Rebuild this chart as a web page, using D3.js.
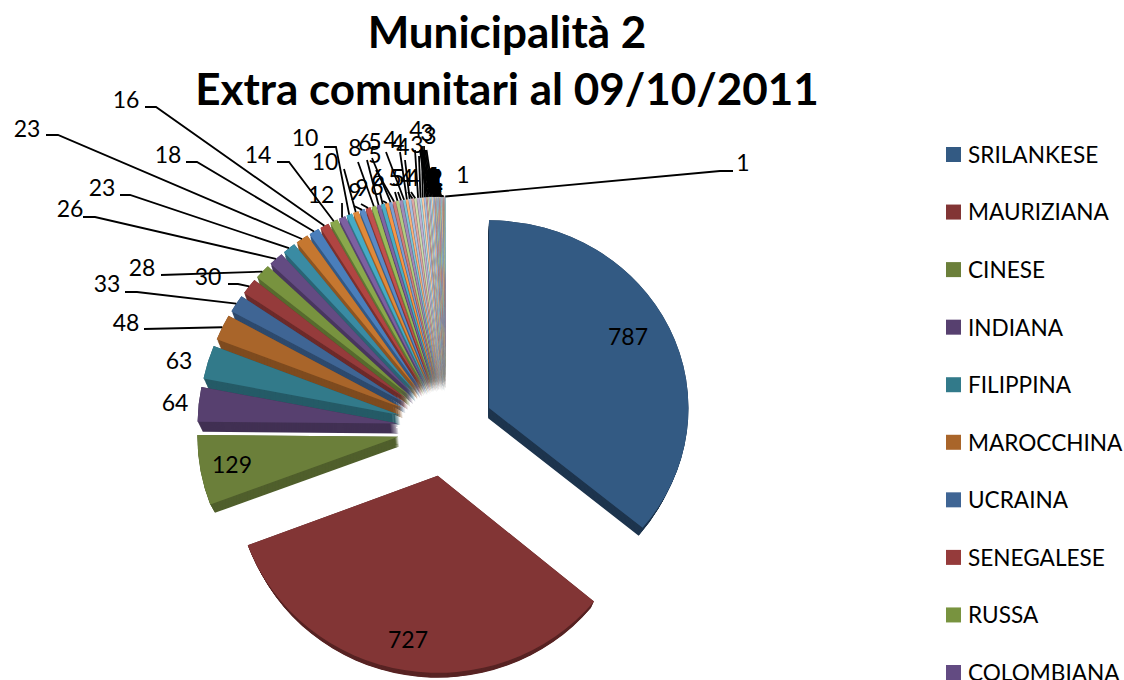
<!DOCTYPE html>
<html>
<head>
<meta charset="utf-8">
<script src="https://cdn.jsdelivr.net/npm/d3@7"></script>
<style>
  html, body { margin: 0; padding: 0; background: #fff; overflow: hidden; }
  svg { display: block; }
  text { font-family: Lato, "Open Sans", sans-serif; fill: #000; }
</style>
</head>
<body>
<svg width="1124" height="680"></svg>
<script>
const titleLines = ["Municipalità 2", "Extra comunitari al 09/10/2011"];

// only the first ten names are visible, the legend runs off the page
const categories = ["SRILANKESE", "MAURIZIANA", "CINESE", "INDIANA", "FILIPPINA",
  "MAROCCHINA", "UCRAINA", "SENEGALESE", "RUSSA", "COLOMBIANA"];

const values = [787, 727, 129, 64, 63, 48, 33, 30, 28, 26, 23, 23, 18, 16, 14, 12, 10, 10,
  9, 9, 8, 6, 6, 6, 5, 5, 5, 5, 4, 4, 4, 4, 4, 4, 3, 3, 3,
  2, 2, 2, 2, 2, 2,
  1, 1, 1, 1, 1, 1, 1, 1, 1, 1, 1, 1, 1, 1, 1, 1];

// office theme colours, they get lighter each time the cycle repeats
const colorCycles = [
  ["#335a83", "#823535", "#6b7f3a", "#57406f", "#327a8a", "#a9652a"],
  ["#3f6594", "#953b3b", "#78933f", "#634b82", "#3a8ba3", "#c57730"],
  ["#4a7ebb", "#b04542", "#8aa84c", "#7d60a0", "#46aac5", "#e08a3a"],
  ["#5a8ac6", "#c0504d", "#9bbb59", "#8064a2", "#4bacc6", "#f79646"],
  ["#7ba0d2", "#cf7b79", "#b3cc82", "#a08ab8", "#7cc4d8", "#f8b27c"],
  ["#a8bfe0", "#dda5a3", "#cddcae", "#bfb0d0", "#a9d8e5", "#fbcda8"]
];

// label centre, then the start of its leader line (stub first when there is one)
const labelAt = [
  [628, 337], [408, 640], [232, 465], [175, 403], [179, 361],
  [126, 323, [144, 329]], [107, 284, [125, 292], [137, 292]], [208, 277, [228, 284], [238, 284]],
  [142, 268, [161, 275]], [70, 209, [83, 217], [95, 217]], [102, 188, [120, 195], [130, 195]],
  [27, 129, [46, 135], [58, 135]], [168, 155, [186, 162], [197, 162]], [126, 100, [145, 107], [156, 107]],
  [258, 155, [277, 162], [289, 162]], [321, 195, [342, 203]],
  [305, 138, [324, 147], [336, 147]], [325, 162, [344, 169]],
  [355, 192, [354, 206]], [362, 188, [361, 204]], [355, 148, [358, 162]],
  [365, 143, [367, 160]], [378, 178, [380, 193]], [377, 187, [383, 201]],
  [375, 142, [372, 158]], [375, 155, [376, 170]], [395, 178, [395, 192]], [398, 178, [398, 192]],
  [390, 140, [386, 152]], [398, 143, [400, 152]], [403, 147, [405, 160]], [407, 178, [408, 192]],
  [413, 178, [411, 192]], [416, 130, [415, 150]],
  [417, 145, [419, 156]], [427, 133, [422, 146]], [430, 136, [424, 146]]
];

const svg = d3.select("svg");

const cx = 445.6, cy = 428.5, explode = 48;

// the picture is a perspective view: near side of the pie is a bit bigger
const rxScale = d3.scaleLinear().domain([-1, 1]).range([203, 198]);
const ryScale = d3.scaleLinear().domain([-1, 1]).range([197, 184]);
// sides facing away from the light on the left are darker
const shadeScale = d3.scaleLinear().domain([-1, 1]).range([0.8, 1.5]);

const pie = d3.pie().sort(null).value(d => d);
const arc = d3.arc().innerRadius(0).outerRadius(1);

function sliceColor(i) {
  const row = colorCycles[Math.min(Math.floor(i / 6), colorCycles.length - 1)];
  return row[i % 6];
}

const slices = pie(values).map((d, i) => {
  const mid = (d.startAngle + d.endAngle) / 2;
  const ax = cx + explode * Math.sin(mid);
  const ay = cy - explode * Math.cos(mid);
  const rx = rxScale(Math.cos(mid));
  const ry = ryScale(Math.cos(mid));
  return {
    d, i, mid, ax, ay, rx, ry,
    rim: [ax + rx * Math.sin(mid), ay - ry * Math.cos(mid)],
    color: sliceColor(i)
  };
});

// side of a slice = same shape shrunk towards a vanishing point under the pie
const vanishX = 445, vanishY = 920;
const depthSteps = d3.range(0.98, 1, 0.002);

function sliceTransform(s, k) {
  return `translate(${vanishX},${vanishY}) scale(${k}) translate(${-vanishX},${-vanishY})` +
    ` translate(${s.ax},${s.ay}) scale(${s.rx},${s.ry})`;
}

// back slices first
const drawOrder = slices.slice().sort((a, b) => Math.cos(b.mid) - Math.cos(a.mid));

const sliceG = svg.append("g").selectAll("g")
  .data(drawOrder)
  .join("g");

sliceG.selectAll("path.side")
  .data(s => depthSteps.map(k => ({s, k})))
  .join("path")
  .attr("class", "side")
  .attr("d", e => arc(e.s.d))
  .attr("transform", e => sliceTransform(e.s, e.k))
  .attr("fill", e => d3.color(e.s.color).darker(shadeScale(Math.sin(e.s.mid))));

sliceG.append("path")
  .attr("d", s => arc(s.d))
  .attr("transform", s => sliceTransform(s, 1))
  .attr("fill", s => s.color);

// where the 2s and 1s pile up, too many to place one at a time
function labelPlace(i) {
  if (i < labelAt.length) return labelAt[i];
  if (i === values.length - 1) return [743, 163, [733, 171], [720, 171]];
  if (i === values.length - 2) return [463, 175];
  const n = i - labelAt.length;
  if (values[i] === 2) return [431 + n, 178, [420 + n * 1.3, 150]];
  return [431 + (n % 7), 176 + (n % 5) * 2, [425 + (n % 16), 190]];
}

const labels = slices.map(s => ({s, place: labelPlace(s.i)}));

const leader = d3.line();

svg.append("g").selectAll("path")
  .data(labels.filter(l => l.place.length > 2))
  .join("path")
  .attr("d", l => leader([...l.place.slice(2), l.s.rim]))
  .attr("fill", "none")
  .attr("stroke", "#000")
  .attr("stroke-width", 1.8);

svg.append("g").selectAll("text")
  .data(labels)
  .join("text")
  .attr("x", l => l.place[0])
  .attr("y", l => l.place[1])
  .attr("dy", "0.35em")
  .attr("text-anchor", "middle")
  .attr("font-size", 23)
  .attr("font-weight", l => l.s.i >= labelAt.length && l.s.i < values.length - 2 ? 900 : 400)
  .text(l => values[l.s.i]);

svg.append("g").selectAll("text")
  .data(titleLines)
  .join("text")
  .attr("x", 507)
  .attr("y", (d, i) => 48 + i * 57)
  .attr("text-anchor", "middle")
  .attr("font-size", 44)
  .attr("font-weight", 700)
  .text(d => d);

// legend
const legendY = d3.scaleLinear().domain([0, 9]).range([155, 673]);

const legend = svg.append("g").selectAll("g")
  .data(categories)
  .join("g")
  .attr("transform", (d, i) => `translate(946,${legendY(i)})`);

legend.append("rect")
  .attr("y", -8)
  .attr("width", 15)
  .attr("height", 15)
  .attr("fill", (d, i) => sliceColor(i));

legend.append("text")
  .attr("x", 22)
  .attr("dy", "0.35em")
  .attr("font-size", 22.6)
  .text(d => d);
</script>
</body>
</html>
